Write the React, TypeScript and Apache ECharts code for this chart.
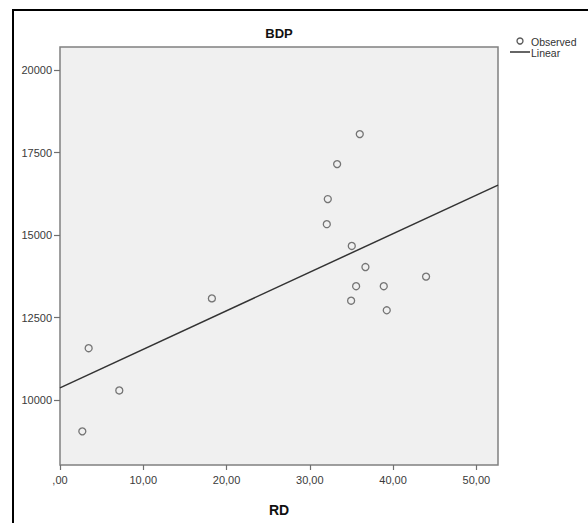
import React, { useEffect, useRef } from "react";
import * as echarts from "echarts";

const title = "BDP";
const xName = "RD";
const legendLabels = ["Observed", "Linear"];
const rdValues = [36.0, 33.28, 32.16, 32.04, 35.04, 36.68, 35.56, 38.88, 43.96, 34.96, 39.24, 18.24, 3.44, 7.12, 2.68];
const bdpValues = [18060, 17150, 16090, 15330, 14670, 14030, 13450, 13450, 13740, 13010, 12720, 13080, 11570, 10290, 9050];
const xTicks = [0, 10, 20, 30, 40, 50];
const yTicks = [10000, 12500, 15000, 17500, 20000];
const xMin = 0;
const xMax = 52.6;
const yMin = 8030;
const yMax = 20700;

function fit(xs: number[], ys: number[]) {
  const n = xs.length;
  const mx = xs.reduce((a, b) => a + b, 0) / n;
  const my = ys.reduce((a, b) => a + b, 0) / n;
  let sxy = 0, sxx = 0;
  for (let i = 0; i < n; i++) {
    sxy += (xs[i] - mx) * (ys[i] - my);
    sxx += (xs[i] - mx) * (xs[i] - mx);
  }
  const b = sxy / sxx;
  return { a: my - b * mx, b };
}

export default function App() {
  const ref = useRef<HTMLDivElement>(null);
  useEffect(() => {
    if (!ref.current) return;
    const chart = echarts.init(ref.current, null, { renderer: "svg" });
    const { a, b } = fit(rdValues, bdpValues);
    const points = rdValues.map((x, i) => [x, bdpValues[i]]);
    const font = "'Liberation Sans', Arial, sans-serif";
    chart.setOption({
      animation: false,
      backgroundColor: "#ffffff",
      grid: {
        left: 60,
        top: 47,
        right: 90,
        bottom: 58,
        show: true,
        backgroundColor: "#f0f0f0",
        borderColor: "#808080",
        borderWidth: 1.5,
      },
      xAxis: {
        type: "value",
        min: xMin,
        max: xMax,
        name: xName,
        nameLocation: "middle",
        nameGap: 38,
        nameTextStyle: { fontFamily: font, fontWeight: "bold", fontSize: 14, color: "#111" },
        axisLine: { show: false },
        splitLine: { show: false },
        axisTick: { show: true, length: 5, lineStyle: { color: "#707070", width: 1.2 }, customValues: xTicks },
        axisLabel: {
          customValues: xTicks,
          margin: 9,
          fontFamily: font,
          fontSize: 11,
          color: "#3a3a3a",
          formatter: (v: number) => (v === 0 ? ",00" : v.toFixed(2).replace(".", ",")),
        },
      },
      yAxis: {
        type: "value",
        min: yMin,
        max: yMax,
        axisLine: { show: false },
        splitLine: { show: false },
        axisTick: { show: true, length: 6, lineStyle: { color: "#707070", width: 1.2 }, customValues: yTicks },
        axisLabel: {
          customValues: yTicks,
          margin: 8,
          fontFamily: font,
          fontSize: 11,
          color: "#3a3a3a",
          formatter: (v: number) => String(Math.round(v)),
        },
      },
      graphic: [
        {
          type: "rect",
          shape: { x: 13, y: 10, width: 620, height: 560 },
          style: { fill: "none", stroke: "#000", lineWidth: 2 },
          z: 100,
        },
        {
          type: "text",
          x: 279,
          y: 33,
          style: { text: title, fontFamily: font, fontWeight: "bold", fontSize: 13, fill: "#111", textAlign: "center", textVerticalAlign: "middle" },
        },
        {
          type: "circle",
          shape: { cx: 520, cy: 41, r: 3 },
          style: { fill: "none", stroke: "#555", lineWidth: 1.3 },
        },
        {
          type: "text",
          x: 531,
          y: 42,
          style: { text: legendLabels[0], fontFamily: font, fontSize: 10.5, fill: "#333", textAlign: "left", textVerticalAlign: "middle" },
        },
        {
          type: "line",
          shape: { x1: 510, y1: 52, x2: 530, y2: 52 },
          style: { stroke: "#333", lineWidth: 1.5 },
        },
        {
          type: "text",
          x: 531,
          y: 53,
          style: { text: legendLabels[1], fontFamily: font, fontSize: 10.5, fill: "#333", textAlign: "left", textVerticalAlign: "middle" },
        },
      ],
      series: [
        {
          name: legendLabels[1],
          type: "line",
          data: [[xMin, a + b * xMin], [xMax, a + b * xMax]],
          showSymbol: false,
          lineStyle: { color: "#333", width: 1.5 },
          z: 2,
        },
        {
          name: legendLabels[0],
          type: "scatter",
          data: points,
          symbol: "circle",
          symbolSize: 7,
          itemStyle: { color: "rgba(0,0,0,0)", borderColor: "#555", borderWidth: 1.3 },
          z: 3,
        },
      ],
    });
    return () => chart.dispose();
  }, []);
  return (
    <div style={{ position: "absolute", left: 0, top: 0, width: 588, height: 523, background: "#fff" }}>
      <div ref={ref} style={{ width: 588, height: 523 }} />
    </div>
  );
}
